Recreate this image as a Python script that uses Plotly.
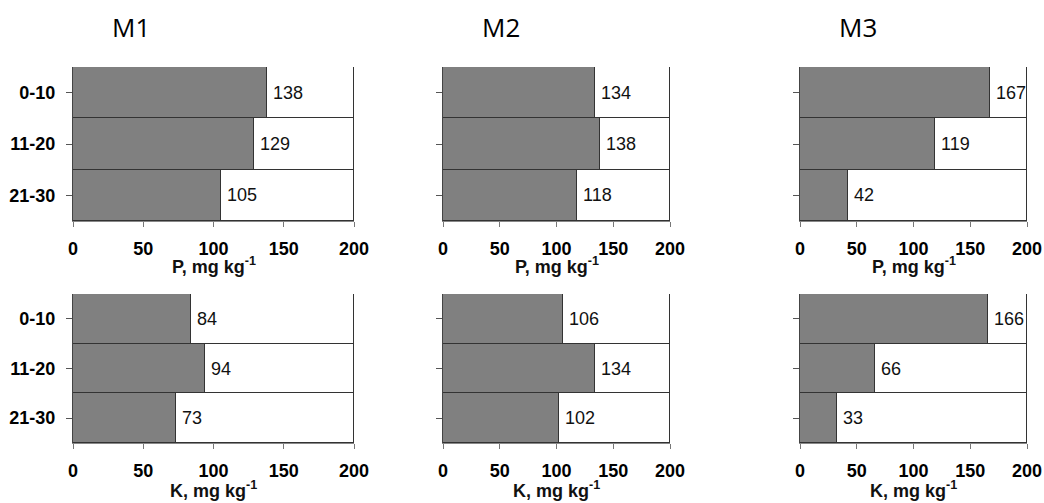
import plotly.graph_objects as go

depths = ["0-10", "11-20", "21-30"]
titles = ["M1", "M2", "M3"]
elements = ["P", "K"]
p_values = [[138, 129, 105], [134, 138, 118], [167, 119, 42]]
k_values = [[84, 94, 73], [106, 134, 102], [166, 66, 33]]
x_max = 200
tick_vals = [0, 50, 100, 150, 200]

W, H = 1044, 503
x_px = [(73, 354), (443, 670), (800, 1027)]
y_px = [(67, 221), (294, 443)]
title_y_px = [265, 489]
FONT = "Liberation Sans"


def px_x(p):
    return p / W


def px_y(p):
    return 1 - p / H


fig = go.Figure()
rows = [p_values, k_values]
idx = 0
for r, vals in enumerate(rows):
    for c in range(3):
        idx += 1
        xa = "x" if idx == 1 else f"x{idx}"
        ya = "y" if idx == 1 else f"y{idx}"
        v = vals[c]
        fig.add_trace(go.Bar(y=depths, x=v, orientation="h",
                             marker=dict(color="#808080", line=dict(color="#333333", width=1.2)),
                             xaxis=xa, yaxis=ya, showlegend=False, hoverinfo="x+y"))
        fig.add_trace(go.Bar(y=depths, x=[x_max - a for a in v], orientation="h",
                             marker=dict(color="white", line=dict(color="#333333", width=1.2)),
                             xaxis=xa, yaxis=ya, showlegend=False, hoverinfo="skip"))
        for d, a in zip(depths, v):
            fig.add_annotation(x=a, y=d, xref=xa, yref=ya, text=str(a), showarrow=False, xanchor="left", xshift=4,
                               font=dict(family=FONT, size=18, color="#111"))
        xd = [px_x(x_px[c][0]), px_x(x_px[c][1])]
        yd = [px_y(y_px[r][1]), px_y(y_px[r][0])]
        xkey = "xaxis" if idx == 1 else f"xaxis{idx}"
        ykey = "yaxis" if idx == 1 else f"yaxis{idx}"
        fig.layout[xkey] = dict(domain=xd, anchor=ya, range=[0, x_max], tickvals=tick_vals, ticks="outside", ticklen=5,
                                tickcolor="#777", showline=True, linecolor="#888", linewidth=1, showgrid=False,
                                zeroline=False, automargin=False, ticklabelstandoff=6,
                                tickfont=dict(family=FONT, size=18, color="black", weight="bold"))
        fig.layout[ykey] = dict(domain=yd, anchor=xa, autorange="reversed", ticks="outside", ticklen=6,
                                tickcolor="#555", showline=True, linecolor="#444", linewidth=1.2, showgrid=False,
                                showticklabels=(c == 0), automargin=False, ticklabelstandoff=7,
                                tickfont=dict(family=FONT, size=18, color="black", weight="bold"))
        # axis title
        fig.add_annotation(x=px_x((x_px[c][0] + x_px[c][1]) / 2), y=px_y(title_y_px[r]), xref="paper", yref="paper",
                           text=f"{elements[r]}, mg kg<sup>-1</sup>", showarrow=False, xanchor="center", yanchor="middle",
                           font=dict(family=FONT, size=18, color="#111", weight="bold"))

for c, t in enumerate(titles):
    fig.add_annotation(x=px_x(x_px[c][0] + 58), y=px_y(27), xref="paper", yref="paper", text=t, showarrow=False,
                       xanchor="center", yanchor="middle",
                       font=dict(family="Open Sans, Noto Sans", size=26, color="black"))

fig.update_layout(width=W, height=H, margin=dict(l=0, r=0, t=0, b=0), barmode="stack", bargap=0,
                  plot_bgcolor="white", paper_bgcolor="white")
fig.write_html("out.html", config={"displayModeBar": False},
               post_script="document.body.style.margin='0';document.body.style.overflow='hidden';")
